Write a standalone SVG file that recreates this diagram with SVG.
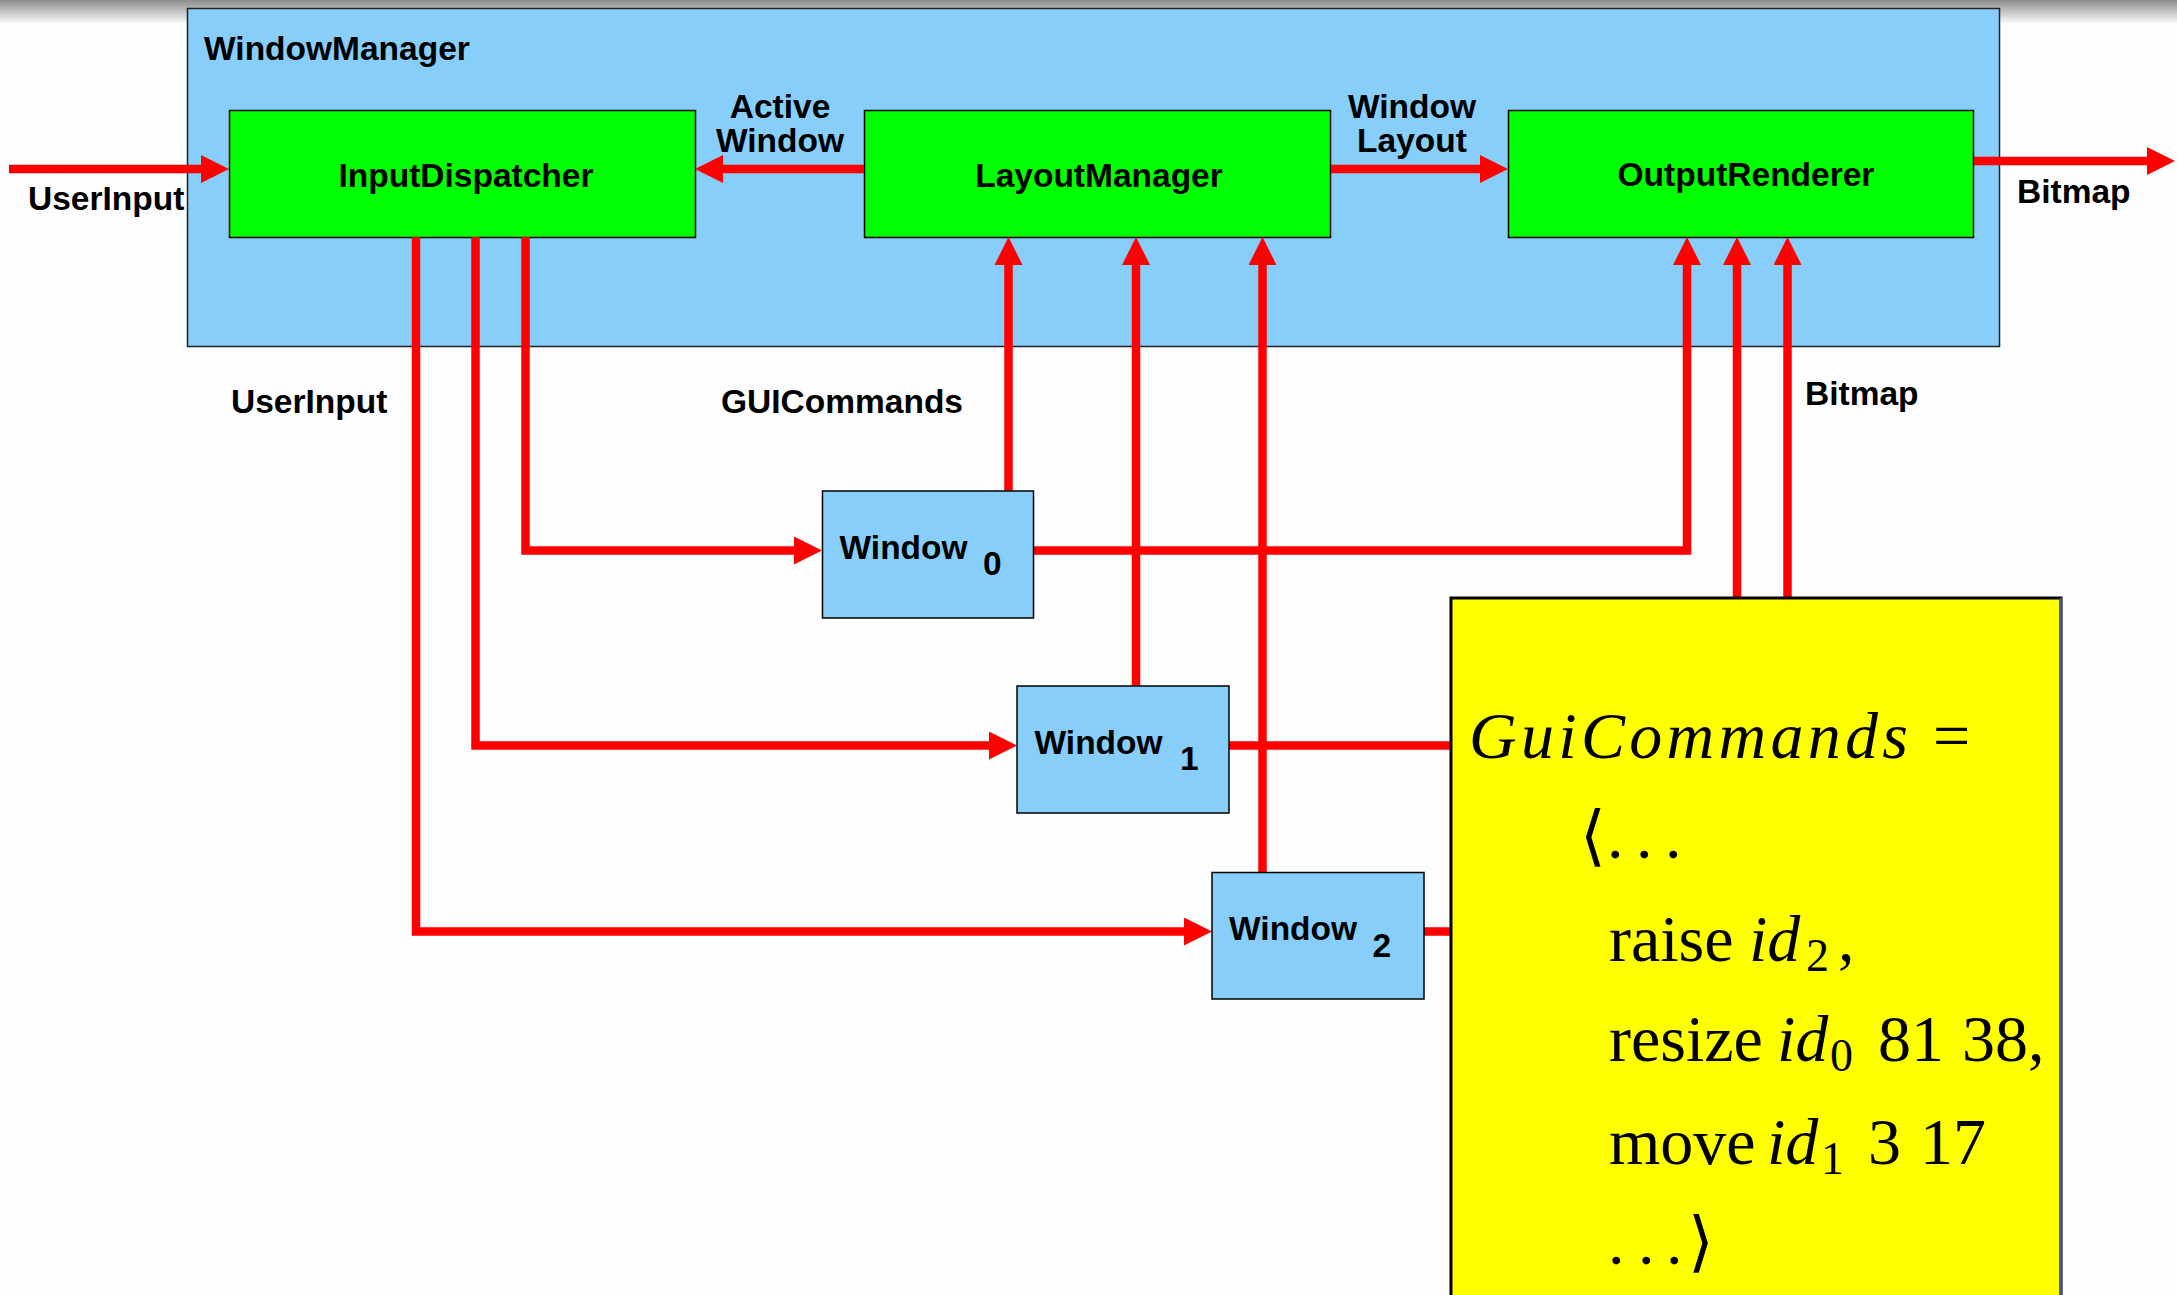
<svg xmlns="http://www.w3.org/2000/svg" width="2177" height="1295" viewBox="0 0 2177 1295">
  <defs>
    <linearGradient id="topShade" x1="0" y1="0" x2="0" y2="1">
      <stop offset="0" stop-color="#8c8c8c"/>
      <stop offset="0.35" stop-color="#b4b4b4"/>
      <stop offset="1" stop-color="#fdfdfd"/>
    </linearGradient>
    <marker id="arrow" markerUnits="userSpaceOnUse" markerWidth="28" markerHeight="28" refX="8" refY="14" orient="auto">
      <path d="M0,0 L28,14 L0,28 z" fill="#ff0000"/>
    </marker>
    <style>
      .lbl { font-family: "Liberation Sans", Arial, sans-serif; font-weight: bold; font-size: 33.5px; fill: #000; }
      .mid { text-anchor: middle; }
      .comp { fill: #00ff00; stroke: #000; stroke-width: 1.5; }
      .win { fill: #87cefa; stroke: #000; stroke-width: 1.5; }
      .wire { fill: none; stroke: #ff0000; stroke-width: 8.5; stroke-linejoin: miter; }
      .arr { marker-end: url(#arrow); }
      .math { font-family: "Liberation Serif", "DejaVu Serif", serif; font-size: 66px; fill: #000; }
      .it { font-style: italic; }
      .sub { font-size: 46px; }
    </style>
  </defs>

  <!-- page background and top shading -->
  <rect x="0" y="0" width="2177" height="1295" fill="#fdfdfd"/>
  <rect x="0" y="0" width="2177" height="24" fill="url(#topShade)"/>

  <!-- WindowManager container -->
  <g id="windowManager">
    <rect x="187.5" y="8.5" width="1812" height="338" fill="#87cefa" stroke="#222" stroke-width="1.5"/>
    <text class="lbl" x="204" y="60">WindowManager</text>
  </g>

  <g id="inputDispatcher">
    <rect class="comp" x="229.5" y="110.5" width="466" height="127"/>
    <text class="lbl mid" x="466" y="187">InputDispatcher</text>
  </g>

  <g id="layoutManager">
    <rect class="comp" x="864.5" y="110.5" width="466" height="127"/>
    <text class="lbl mid" x="1099" y="187">LayoutManager</text>
  </g>

  <g id="outputRenderer">
    <rect class="comp" x="1508.5" y="110.5" width="465" height="127"/>
    <text class="lbl mid" x="1746" y="186">OutputRenderer</text>
  </g>

  <!-- connectors -->
  <g id="connectors">
    <path class="wire arr" d="M9,169 H209"/>
    <path class="wire arr" d="M864,169 H715"/>
    <path class="wire arr" d="M1331,169 H1488"/>
    <path class="wire arr" d="M1974,161 H2155"/>

    <path class="wire arr" d="M525.5,237 V550.5 H802"/>
    <path class="wire arr" d="M475.5,237 V745.5 H997"/>
    <path class="wire arr" d="M416,237 V931.5 H1192"/>

    <path class="wire arr" d="M1008.5,491 V257"/>
    <path class="wire arr" d="M1136,686 V257"/>
    <path class="wire arr" d="M1262.5,872 V257"/>

    <path class="wire arr" d="M1034,550.5 H1687 V257"/>
    <path class="wire arr" d="M1229,745.5 H1737 V257"/>
    <path class="wire arr" d="M1424,931.5 H1787.5 V257"/>
  </g>

  <!-- connector labels -->
  <g id="labels">
    <text class="lbl" x="28" y="210">UserInput</text>
    <text class="lbl" x="2017" y="203">Bitmap</text>
    <text class="lbl mid" x="780" y="118">Active</text>
    <text class="lbl mid" x="780" y="152">Window</text>
    <text class="lbl mid" x="1412" y="118">Window</text>
    <text class="lbl mid" x="1412" y="152">Layout</text>
    <text class="lbl" x="231" y="413">UserInput</text>
    <text class="lbl" x="721" y="413">GUICommands</text>
    <text class="lbl" x="1805" y="405">Bitmap</text>
  </g>

  <g id="window0">
    <rect class="win" x="822.5" y="491" width="211" height="127"/>
    <text class="lbl" x="839.5" y="558.5">Window</text>
    <text class="lbl" x="983" y="575">0</text>
  </g>

  <g id="window1">
    <rect class="win" x="1017" y="686" width="212" height="127"/>
    <text class="lbl" x="1034.5" y="754">Window</text>
    <text class="lbl" x="1180" y="770">1</text>
  </g>

  <g id="window2">
    <rect class="win" x="1212" y="872.5" width="212" height="126.5"/>
    <text class="lbl" x="1229" y="939.5">Window</text>
    <text class="lbl" x="1372.5" y="956.5">2</text>
  </g>

  <!-- GUI command stream note -->
  <g id="guiCommands">
    <rect x="1451" y="598" width="610" height="720" fill="#ffff00" stroke="#000" stroke-width="3"/>
    <line x1="2061" y1="598" x2="2061" y2="1295" stroke="#4a5294" stroke-width="3"/>
    <text class="math" y="758">
      <tspan class="it" x="1469" textLength="439" lengthAdjust="spacing">GuiCommands</tspan>
      <tspan x="1933">=</tspan>
    </text>
    <text class="math" y="858">
      <tspan x="1580">⟨</tspan>
      <tspan x="1607 1636 1665">...</tspan>
    </text>
    <text class="math" y="961">
      <tspan x="1609">raise</tspan>
      <tspan class="it" x="1749">id</tspan>
      <tspan class="sub" x="1806" y="971">2</tspan>
      <tspan x="1838" y="961">,</tspan>
    </text>
    <text class="math" y="1061">
      <tspan x="1609">resize</tspan>
      <tspan class="it" x="1777">id</tspan>
      <tspan class="sub" x="1830" y="1071">0</tspan>
      <tspan x="1878" y="1061">81</tspan>
      <tspan x="1962">38,</tspan>
    </text>
    <text class="math" y="1164">
      <tspan x="1609">move</tspan>
      <tspan class="it" x="1767">id</tspan>
      <tspan class="sub" x="1821" y="1174">1</tspan>
      <tspan x="1868" y="1164">3</tspan>
      <tspan x="1920">17</tspan>
    </text>
    <text class="math" y="1264">
      <tspan x="1608 1638 1666">...</tspan>
      <tspan x="1688">⟩</tspan>
    </text>
  </g>
</svg>
